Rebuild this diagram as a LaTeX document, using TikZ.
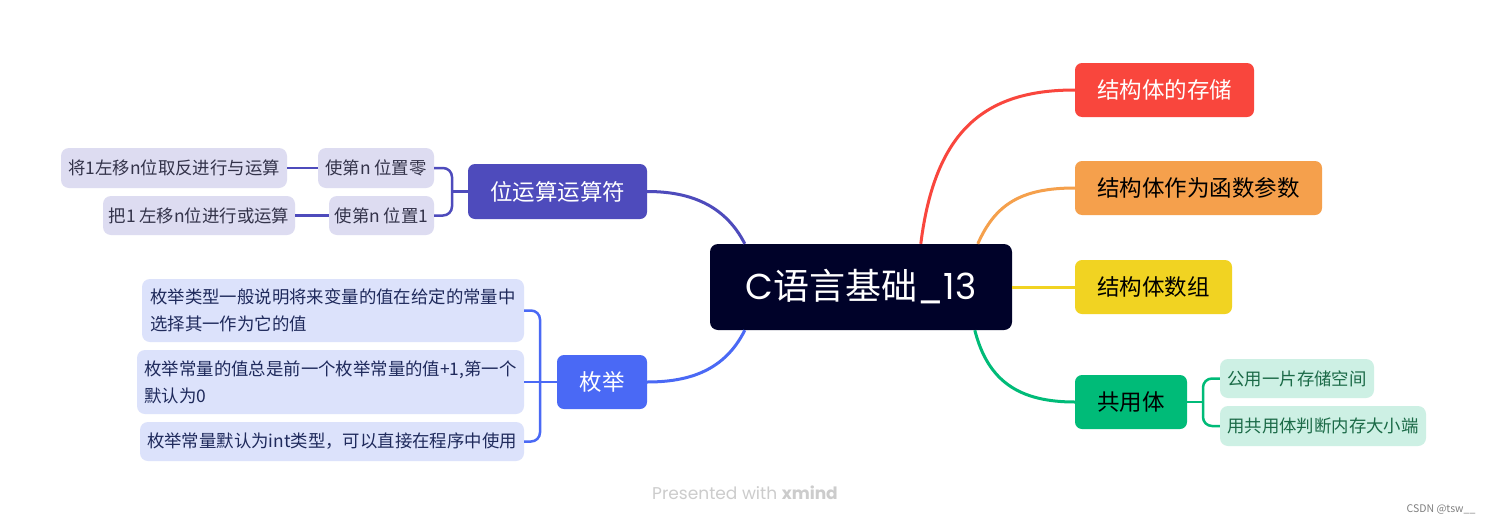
\documentclass[tikz,border=0pt]{standalone}
\usepackage{fontspec}
\setmainfont{Noto Sans CJK SC}
\newfontfamily\popf{Poppins}
\definecolor{navy}{HTML}{000229}
\definecolor{cred}{HTML}{F9463D}
\definecolor{corange}{HTML}{F5A04C}
\definecolor{cyellow}{HTML}{F1D322}
\definecolor{cgreen}{HTML}{00BB78}
\definecolor{cviolet}{HTML}{4E4BBC}
\definecolor{cblue}{HTML}{4A69F5}
\definecolor{lviolet}{HTML}{DDDCF1}
\definecolor{lblue}{HTML}{DCE2FB}
\definecolor{lgreen}{HTML}{CDF0E4}
\definecolor{tviolet}{HTML}{33334A}
\definecolor{tblue}{HTML}{1F2A5C}
\definecolor{tgreen}{HTML}{1B6A47}
\definecolor{wm}{HTML}{CCCCCC}
\tikzset{
  box/.style={rounded corners=7pt, inner sep=0pt, draw=none},
  mainbox/.style={box, font=\fontsize{22.5}{26}\selectfont, minimum height=54pt},
  subbox/.style={box, rounded corners=8pt, font=\fontsize{17.4}{27}\selectfont, minimum height=40pt},
  link/.style={line width=3pt},
  sublink/.style={line width=2.5pt, rounded corners=9pt},
}
\begin{document}
\begin{tikzpicture}[x=1pt,y=-1pt]
\useasboundingbox (0,0) rectangle (1490,525);
\fill[white] (0,0) rectangle (1490,525);

% central
\node[box, rounded corners=8pt, fill=navy, text=white, minimum width=302pt, minimum height=86pt,
  font=\fontsize{36}{40}\selectfont] (c) at (861,287) {{\popf C}语言基础{\popf\_13}};

% right main topics
\node[mainbox, fill=cred, text=white, minimum width=179pt] (s1) at (1164.5,90) {结构体的存储};
\node[mainbox, fill=corange, text=black, minimum width=247pt] (s2) at (1198.5,188) {结构体作为函数参数};
\node[mainbox, fill=cyellow, text=black, minimum width=157pt] (s3) at (1153.5,287) {结构体数组};
\node[mainbox, fill=cgreen, text=black, minimum width=112pt] (s4) at (1131,402) {共用体};

\node[subbox, fill=lgreen, text=tgreen, minimum width=154pt, minimum height=39pt] (u1) at (1297,378.5) {公用一片存储空间};
\node[subbox, fill=lgreen, text=tgreen, minimum width=206pt] (u2) at (1323,426) {用共用体判断内存大小端};

% left main topics
\node[mainbox, fill=cviolet, text=white, minimum width=179pt, minimum height=55pt] (b) at (557.5,191.5) {位运算运算符};
\node[subbox, fill=lviolet, text=tviolet, minimum width=116pt] (b1) at (376,168) {使第n 位置零};
\node[subbox, fill=lviolet, text=tviolet, minimum width=105pt, minimum height=39pt] (b2) at (381.5,215.5) {使第n 位置1};
\node[subbox, fill=lviolet, text=tviolet, minimum width=226pt] (b11) at (174,168) {将1左移n位取反进行与运算};
\node[subbox, fill=lviolet, text=tviolet, minimum width=192pt, minimum height=39pt] (b21) at (199,215.5) {把1 左移n位进行或运算};

\node[mainbox, fill=cblue, text=white, minimum width=90pt] (e) at (602,382) {枚举};
\node[subbox, fill=lblue, text=tblue, minimum width=382pt, minimum height=63pt, align=left] (e1) at (333,310.5)
  {枚举类型一般说明将来变量的值在给定的常量中\\选择其一作为它的值};
\node[subbox, fill=lblue, text=tblue, minimum width=387pt, minimum height=64pt, align=left] (e2) at (330.5,382)
  {枚举常量的值总是前一个枚举常量的值+1,第一个\\默认为0};
\node[subbox, fill=lblue, text=tblue, minimum width=384pt, minimum height=39pt] (e3) at (332,441.5)
  {枚举常量默认为int类型，可以直接在程序中使用};

% junction coordinates
\coordinate (jU) at (1203,402);
\coordinate (jB) at (452,191.5);
\coordinate (jE) at (540,382);

% connectors right
\draw[link, cred] ([xshift=211pt]c.north west) .. controls (935,130) and (985,90) .. (s1.west);
\draw[link, corange] ([xshift=268pt]c.north west) .. controls (995,205) and (1020,188) .. (s2.west);
\draw[link, cyellow] (c.east) -- (s3.west);
\draw[link, cgreen] ([xshift=265pt]c.south west) .. controls (988,382) and (1020,402) .. (s4.west);
\draw[sublink, cgreen] (s4.east) -- (jU);
\draw[sublink, cgreen] (u1.west) -| (jU) |- (u2.west);

% connectors left
\draw[link, cviolet] ([xshift=35pt]c.north west) .. controls (725,205) and (690,191.5) .. (b.east);
\draw[sublink, cviolet] (b.west) -- (jB);
\draw[sublink, cviolet] (b1.east) -| (jB) |- (b2.east);
\draw[sublink, cviolet] (b1.west) -- (b11.east);
\draw[sublink, cviolet] (b2.west) -- (b21.east);

\draw[link, cblue] ([xshift=35pt]c.south west) .. controls (725,370) and (690,382) .. (e.east);
\draw[sublink, cblue] (e.west) -- (e2.east);
\draw[sublink, cblue] (e1.east) -| (jE) |- (e3.east);

% watermarks
\node[text=wm, font=\popf\fontsize{17}{19}\selectfont, inner sep=0pt] (wm1) at (745,493) {Presented with \textbf{xmind}};
\node[text=gray, font=\fontsize{10.5}{12}\selectfont, inner sep=0pt] (wm2) at (1441,509) {CSDN @tsw\_\_};
\end{tikzpicture}
\end{document}
